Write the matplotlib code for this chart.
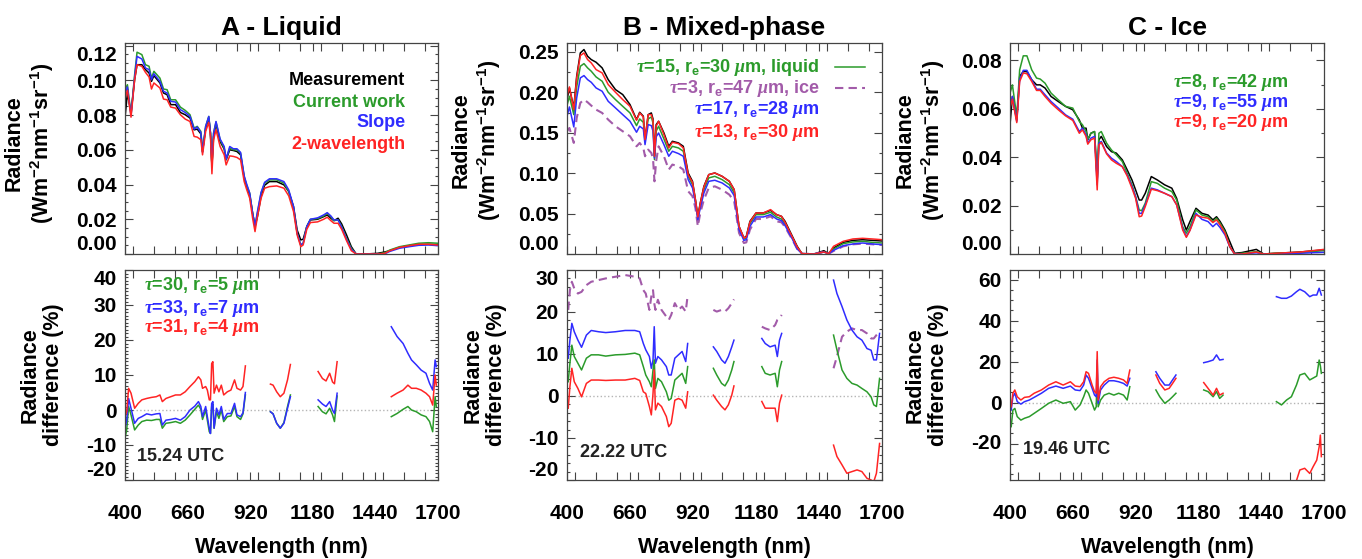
import numpy as np
import matplotlib.pyplot as plt
from matplotlib.ticker import MultipleLocator, FormatStrFormatter

plt.rcParams['font.family'] = ['Liberation Sans', 'DejaVu Sans']
plt.rcParams['font.weight'] = 'bold'
plt.rcParams['axes.unicode_minus'] = False
plt.rcParams['mathtext.fontset'] = 'custom'
plt.rcParams['mathtext.rm'] = 'Liberation Sans:bold'
plt.rcParams['mathtext.bf'] = 'Liberation Sans:bold'
plt.rcParams['mathtext.it'] = 'Liberation Serif:italic'
plt.rcParams['mathtext.default'] = 'bf'

nan = np.nan
GREEN = '#2b9b2b'
BLUE = '#2f2cff'
RED = '#ff2424'
PURPLE = '#a25ba9'

### A - LIQUID : radiance spectra
wl_a = [400, 410, 425, 440, 450, 470, 485, 500, 510, 520, 545, 560, 575, 590, 610, 630, 650, 670, 687, 700,
        715, 722, 735, 748, 755, 761, 768, 778, 795, 812, 820, 835, 850, 865, 880, 895, 905, 918, 930, 940,
        950, 965, 980, 1000, 1030, 1060, 1080, 1100, 1115, 1130, 1140, 1155, 1170, 1200, 1225, 1240, 1255, 1268, 1285, 1300,
        1320, 1340, 1360, 1400, 1450, 1480, 1500, 1540, 1580, 1620, 1660, 1700]
meas_a = [.0783, .0927, .0812, .1004, .1090, .1090, .1062, .1042, .0994, .1027, .0985, .0927, .0917, .0860, .0860, .0815, .0802, .0783, .0715, .0719,
          .0692, .0590, .0725, .0783, .0696, .0504, .0677, .0750, .0648, .0604, .0542, .0600, .0596, .0590, .0571, .0437, .0392, .0340, .0235, .0158,
          .0215, .0331, .0396, .0417, .0417, .0398, .0360, .0273, .0138, .0081, .0085, .0158, .0196, .0200, .0215, .0225, .0206, .0192, .0206, .0173,
          .0110, .0042, .0000, .0000, .0004, .0012, .0019, .0038, .0048, .0054, .0056, .0054]
curr_a = [.0946, .0975, .0802, .1033, .1162, .1148, .1090, .1081, .1013, .1052, .1013, .0950, .0946, .0888, .0888, .0846, .0827, .0802, .0725, .0735,
          .0706, .0590, .0735, .0792, .0696, .0513, .0696, .0760, .0658, .0610, .0546, .0610, .0600, .0600, .0581, .0446, .0398, .0350, .0235, .0158,
          .0235, .0350, .0408, .0427, .0427, .0408, .0360, .0263, .0119, .0052, .0062, .0158, .0200, .0204, .0219, .0235, .0215, .0192, .0196, .0158,
          .0090, .0033, .0000, .0000, .0000, .0008, .0023, .0042, .0052, .0062, .0065, .0062]
slope_a = [.0921, .0962, .0796, .1019, .1138, .1123, .1071, .1062, .1004, .1038, .0994, .0937, .0927, .0879, .0875, .0831, .0815, .0792, .0719, .0731,
           .0700, .0585, .0735, .0792, .0696, .0513, .0696, .0763, .0662, .0619, .0546, .0619, .0606, .0606, .0585, .0450, .0404, .0350, .0235, .0162,
           .0244, .0354, .0413, .0433, .0433, .0417, .0369, .0273, .0119, .0052, .0062, .0158, .0200, .0208, .0225, .0238, .0219, .0196, .0196, .0154,
           .0085, .0027, .0000, .0000, .0000, .0002, .0015, .0033, .0042, .0050, .0052, .0048]
twowl_a = [.0898, .0942, .0788, .1004, .1090, .1081, .1046, .1019, .0950, .0985, .0956, .0892, .0888, .0846, .0840, .0802, .0777, .0763, .0677, .0673,
           .0658, .0571, .0706, .0758, .0677, .0462, .0658, .0715, .0619, .0571, .0513, .0565, .0562, .0556, .0542, .0417, .0373, .0321, .0206, .0129,
           .0215, .0321, .0379, .0388, .0392, .0379, .0335, .0244, .0110, .0042, .0052, .0142, .0181, .0185, .0200, .0212, .0192, .0177, .0177, .0142,
           .0077, .0019, .0000, .0000, .0000, .0004, .0019, .0038, .0048, .0056, .0056, .0052]

### B - MIXED-PHASE : radiance spectra
wl_b = [400, 410, 428, 440, 455, 470, 485, 500, 520, 545, 570, 600, 630, 660, 687, 700, 715, 722, 735, 748,
        755, 761, 768, 778, 800, 820, 835, 860, 880, 900, 918, 930, 940, 950, 965, 985, 1010, 1040, 1070, 1090,
        1110, 1130, 1140, 1155, 1180, 1210, 1240, 1265, 1285, 1300, 1330, 1350, 1370, 1420, 1460, 1480, 1500, 1540, 1580, 1620,
        1660, 1700]
meas_b = [.1910, .2054, .1807, .2199, .2487, .2529, .2446, .2405, .2372, .2302, .2157, .2034, .1972, .1848, .1662, .1753, .1704, .1415, .1724, .1745,
          .1670, .1209, .1600, .1642, .1497, .1332, .1394, .1374, .1332, .1002, .0899, .0672, .0466, .0631, .0837, .0982, .1002, .0961, .0899, .0796,
          .0342, .0198, .0219, .0404, .0507, .0507, .0540, .0487, .0466, .0404, .0219, .0095, .0004, .0000, .0041, .0004, .0074, .0144, .0169, .0177,
          .0169, .0161]
liq_b = [.1836, .1951, .1724, .2067, .2322, .2355, .2302, .2261, .2190, .2137, .2001, .1910, .1827, .1745, .1588, .1671, .1629, .1394, .1671, .1695,
         .1620, .1167, .1520, .1580, .1423, .1271, .1332, .1312, .1271, .0961, .0858, .0652, .0446, .0598, .0796, .0941, .0961, .0920, .0858, .0755,
         .0322, .0186, .0198, .0375, .0487, .0487, .0516, .0458, .0433, .0375, .0198, .0074, .0004, .0000, .0025, .0004, .0062, .0128, .0149, .0157,
         .0144, .0136]
ice_b = [.1518, .1559, .1374, .1683, .1869, .1910, .1877, .1836, .1786, .1745, .1662, .1580, .1518, .1456, .1332, .1374, .1312, .1209, .1291, .1250,
         .1180, .0899, .1150, .1332, .1209, .1044, .1106, .1085, .1044, .0776, .0714, .0569, .0342, .0507, .0672, .0817, .0837, .0796, .0734, .0652,
         .0260, .0136, .0144, .0301, .0433, .0433, .0466, .0404, .0392, .0334, .0177, .0062, .0004, .0000, .0025, .0004, .0037, .0095, .0120, .0128,
         .0120, .0111]
slope_b = [.1704, .1819, .1572, .1931, .2178, .2207, .2157, .2124, .2054, .2013, .1889, .1807, .1724, .1642, .1506, .1580, .1547, .1353, .1601, .1588,
           .1520, .1188, .1450, .1497, .1353, .1209, .1271, .1242, .1209, .0920, .0817, .0631, .0425, .0569, .0755, .0899, .0912, .0879, .0817, .0722,
           .0301, .0169, .0177, .0342, .0458, .0458, .0487, .0433, .0413, .0351, .0186, .0062, .0004, .0000, .0025, .0004, .0045, .0103, .0124, .0136,
           .0124, .0116]
twowl_b = [.1951, .2067, .1786, .2178, .2454, .2487, .2405, .2364, .2281, .2240, .2096, .2001, .1910, .1827, .1654, .1745, .1695, .1415, .1724, .1724,
           .1650, .1209, .1580, .1642, .1477, .1312, .1382, .1365, .1312, .0982, .0887, .0672, .0458, .0623, .0829, .0982, .1002, .0961, .0899, .0796,
           .0342, .0198, .0210, .0396, .0507, .0507, .0549, .0487, .0466, .0392, .0210, .0087, .0004, .0000, .0025, .0004, .0095, .0157, .0186, .0194,
           .0186, .0177]

### C - ICE : radiance spectra
wl_c = [400, 410, 428, 440, 455, 470, 490, 510, 525, 545, 570, 600, 630, 660, 687, 700, 715, 722, 735, 750,
        761, 768, 778, 800, 820, 840, 865, 885, 905, 920, 935, 945, 960, 985, 1010, 1040, 1070, 1090, 1115, 1130,
        1145, 1170, 1195, 1220, 1240, 1255, 1270, 1290, 1310, 1330, 1360, 1420, 1450, 1500, 1600, 1700]
meas_c = [.0534, .0651, .0554, .0734, .0754, .0754, .0720, .0699, .0699, .0686, .0651, .0630, .0610, .0596, .0554, .0520, .0520, .0472, .0499, .0506,
          .0306, .0472, .0486, .0444, .0423, .0417, .0389, .0348, .0306, .0265, .0223, .0223, .0251, .0320, .0306, .0286, .0272, .0230, .0141, .0099,
          .0134, .0189, .0168, .0161, .0141, .0154, .0134, .0099, .0051, .0003, .0006, .0019, .0000, .0003, .0008, .0017]
curr_c = [.0665, .0699, .0568, .0761, .0819, .0819, .0761, .0727, .0723, .0706, .0665, .0637, .0610, .0603, .0548, .0534, .0506, .0474, .0499, .0506,
          .0306, .0499, .0506, .0458, .0430, .0410, .0382, .0334, .0286, .0237, .0182, .0179, .0210, .0299, .0292, .0272, .0258, .0223, .0113, .0086,
          .0113, .0182, .0161, .0154, .0134, .0148, .0127, .0092, .0030, .0000, .0003, .0010, .0000, .0003, .0006, .0014]
slope_c = [.0610, .0651, .0548, .0720, .0759, .0759, .0720, .0681, .0681, .0658, .0630, .0603, .0575, .0557, .0506, .0520, .0492, .0458, .0479, .0486,
           .0286, .0458, .0465, .0417, .0396, .0382, .0361, .0327, .0279, .0237, .0168, .0168, .0203, .0272, .0265, .0251, .0237, .0203, .0106, .0072,
           .0099, .0168, .0143, .0134, .0113, .0127, .0109, .0079, .0030, .0000, .0000, .0005, .0000, .0000, .0003, .0007]
twowl_c = [.0603, .0640, .0543, .0713, .0748, .0745, .0713, .0676, .0676, .0651, .0623, .0596, .0571, .0552, .0499, .0513, .0486, .0454, .0472, .0479,
           .0265, .0451, .0461, .0414, .0389, .0375, .0361, .0323, .0272, .0230, .0154, .0157, .0196, .0268, .0262, .0251, .0237, .0203, .0099, .0069,
           .0097, .0161, .0152, .0148, .0130, .0141, .0120, .0086, .0030, .0000, .0000, .0008, .0000, .0003, .0008, .0019]

### radiance differences (%), nan separates the spectral windows
dwl_a = [400, 407, 415, 425, 440, 455, 470, 490, 510, 530, 545, 555, 570, 590, 610, 630, 650, 670, 690, 705,
         715, 722, 735, 742, 750, 755, 760, 765, 770, 780, 790, 800, 810, 825, 840, 855, 865, 880, 890, 900, nan,
         1004, 1015, 1030, 1045, 1060, 1075, 1087, nan,
         1202, 1220, 1235, 1250, 1262, 1270, 1281, nan,
         1506, 1530, 1555, 1575, 1590, 1610, 1630, 1650, 1665, 1678, 1688, 1693]
dcurr_a = [-8.1, -5.7, 1.0, -1.4, -5.7, -4.3, -3.3, -2.9, -3.0, -2.7, -2.7, -5.2, -3.8, -3.6, -3.3, -3.8, -2.9, -1.4, 0.2, 1.4,
           0.2, -2.7, 0.0, -2.9, -6.2, -6.7, 1.0, 1.7, -5.2, -0.5, -2.4, 0.0, -3.3, -1.9, -1.7, 1.0, -1.9, -2.7, -1.1, 4.3, nan,
           -0.5, -1.1, -3.8, -5.2, -3.6, 1.0, 4.3, nan,
           1.0, -0.5, -1.1, 0.5, -1.4, -3.3, 4.0, nan,
           -1.9, -1.0, 0.2, 1.0, 0.0, -0.5, -1.4, -1.9, -3.3, -6.2, 3.8, 1.0]
dslope_a = [-5.2, -2.9, 3.3, 0.5, -3.8, -2.4, -1.9, -1.1, -1.4, -1.1, -1.0, -4.3, -2.9, -2.7, -2.4, -2.9, -1.9, 0.0, 1.1, 2.4,
            1.0, -1.9, 1.0, -1.9, -5.2, -6.7, 1.9, 2.4, -5.2, 0.5, -1.4, 1.0, -2.7, -1.0, -1.0, 1.9, -1.4, -1.9, -0.8, 5.0, nan,
            -0.5, -1.1, -3.8, -5.2, -3.8, 0.5, 3.8, nan,
            2.9, 1.7, 1.0, 2.4, 0.0, -1.0, 4.8, nan,
            23.8, 21.0, 19.0, 16.2, 14.3, 12.9, 11.4, 10.5, 7.6, 5.7, 14.3, 12.4]
dtwowl_a = [-1.9, -0.5, 6.2, 4.8, 0.5, 1.9, 2.9, 3.3, 3.6, 3.8, 4.3, 2.4, 3.3, 3.8, 4.3, 4.3, 5.2, 6.7, 8.1, 9.5,
            8.6, 6.2, 6.7, 5.7, 2.9, 2.9, 13.3, 13.8, 4.8, 7.1, 5.2, 7.1, 4.3, 5.2, 5.7, 8.6, 6.2, 5.7, 6.7, 12.6, nan,
            7.4, 7.1, 5.2, 3.8, 4.8, 8.6, 13.0, nan,
            11.0, 9.0, 8.3, 10.5, 8.0, 7.5, 13.8, nan,
            3.8, 4.8, 5.7, 7.1, 6.2, 6.2, 5.7, 4.8, 3.8, 1.4, 10.0, 7.1]

dwl_b = [405, 412, 420, 430, 445, 460, 480, 500, 530, 560, 600, 640, 680, 700, 715, 725, 740, 748, 755, 760,
         765, 775, 790, 810, 820, 830, 845, 860, 875, 890, 898, nan,
         1004, 1018, 1038, 1052, 1066, 1080, 1089, nan,
         1204, 1218, 1238, 1259, 1268, 1277, 1286, nan,
         1500, 1514, 1535, 1555, 1576, 1597, 1617, 1638, 1655, 1666, 1677, 1690]
dliq_b = [3.4, 7.8, 12.1, 9.4, 7.8, 6.2, 9.0, 9.8, 9.8, 9.5, 9.8, 9.9, 10.2, 9.8, 7.0, 5.0, 3.4, 2.2, 6.2, 8.6,
          1.8, 4.2, 3.4, 1.0, -1.0, -0.6, 3.8, 4.6, 5.4, 3.0, 7.0, nan,
          6.6, 5.0, 3.0, 2.4, 3.8, 6.2, 8.2, nan,
          7.0, 5.4, 5.0, 5.4, 2.2, 6.2, 8.2, nan,
          14.5, 11.0, 6.2, 4.2, 3.0, 2.6, 1.8, 1.0, -0.2, -2.1, -2.5, 4.2]
dice_b = [20.5, 25.2, 27.2, 25.6, 24.4, 24.8, 26.4, 27.2, 27.6, 28.0, 28.4, 28.8, 28.4, 28.0, 25.2, 24.4, 20.5, 23.7, 25.2, 22.1,
          20.5, 22.9, 20.5, 18.9, 18.1, 19.3, 22.1, 20.5, 21.3, 20.1, 24.0, nan,
          20.5, 20.1, 20.5, 20.1, 20.9, 22.1, 23.0, nan,
          16.5, 16.1, 15.7, 16.9, 18.1, 18.5, 19.3, nan,
          6.6, 9.4, 14.1, 15.3, 16.1, 15.7, 15.7, 14.9, 13.7, 13.7, 14.5, 15.3]
dslope_b = [9.0, 13.3, 17.3, 15.3, 13.3, 11.6, 14.5, 15.6, 15.3, 15.1, 15.3, 15.6, 15.6, 15.3, 12.5, 11.0, 9.4, 6.6, 8.6, 16.5,
            7.8, 9.4, 8.6, 7.0, 5.0, 5.0, 9.0, 9.8, 10.6, 8.2, 12.5, nan,
            11.7, 10.6, 8.6, 7.8, 9.4, 11.7, 13.3, nan,
            13.7, 12.5, 11.7, 12.1, 9.4, 13.3, 14.9, nan,
            27.6, 24.4, 21.3, 18.1, 15.7, 14.1, 13.3, 11.3, 10.9, 8.6, 8.6, 14.9]
dtwowl_b = [-2.9, 2.2, 6.6, 3.4, 1.8, -0.2, 3.0, 3.8, 3.8, 3.7, 3.8, 3.8, 4.2, 3.7, 1.0, 0.6, -2.5, -4.5, 0.6, 6.2,
            -3.3, -1.7, -2.5, -4.9, -7.3, -6.5, -1.0, -0.6, -1.0, -2.9, 1.0, nan,
            0.2, -1.0, -2.5, -3.3, -2.1, 0.2, 2.4, nan,
            -1.3, -2.9, -2.9, -2.9, -6.1, -1.7, 0.2, nan,
            -11.7, -14.4, -16.4, -18.4, -18.0, -17.6, -18.0, -19.6, -20.0, -20.4, -18.4, -11.3]

dwl_c = [405, 412, 420, 430, 445, 460, 480, 500, 530, 560, 590, 620, 650, 670, 690, 705, 715, 725, 740, 750,
         757, 761, 765, 775, 790, 810, 830, 850, 870, 885, 896, nan,
         1004, 1020, 1041, 1059, 1073, 1087, nan,
         1202, 1220, 1241, 1255, 1268, 1282, nan,
         1503, 1524, 1545, 1565, 1586, 1600, 1620, 1641, 1655, 1670, 1680, 1685, 1689]
dcurr_c = [-11.7, -3.6, -2.8, -6.8, -8.5, -7.6, -6.8, -5.2, -2.8, -0.3, 1.3, -0.3, 0.5, -3.6, -1.1, 2.9, 6.2, 4.6, -0.3, -3.6,
           -2.0, 15.9, -2.0, 1.3, 3.7, 4.6, 3.7, 4.6, 3.7, 1.3, 7.8, nan,
           6.2, 2.9, -0.3, 1.3, 2.9, 4.6, nan,
           6.2, 5.4, 2.9, 5.4, 2.1, 3.7, nan,
           0.5, -1.1, 1.3, 2.9, 8.6, 13.5, 14.3, 11.1, 12.0, 13.0, 20.8, 18.0, 14.3]
dslope_c = [-3.6, 2.9, 4.6, 0.5, -0.7, 0.5, 1.3, 2.6, 4.6, 7.0, 8.1, 7.0, 8.1, 6.2, 5.9, 8.6, 13.5, 11.9, 7.0, 3.7,
            2.9, 20.8, -0.3, 6.2, 8.6, 10.7, 10.7, 10.2, 9.4, 8.1, 11.9, nan,
            15.1, 11.9, 8.6, 8.6, 11.1, 13.5, nan,
            19.5, 20.0, 20.8, 23.3, 20.8, 21.1, nan,
            51.7, 50.9, 50.9, 52.0, 54.1, 55.3, 54.1, 51.7, 52.5, 52.5, 55.8, 54.0, 52.5]
dtwowl_c = [-2.0, 4.6, 6.2, 2.9, 1.3, 2.6, 2.9, 4.6, 6.2, 8.6, 10.2, 8.6, 10.2, 8.1, 7.8, 10.2, 15.1, 14.3, 8.6, 5.4,
            4.6, 24.9, 1.3, 7.8, 10.2, 11.9, 12.4, 11.9, 11.1, 9.4, 15.9, nan,
            13.5, 9.4, 6.2, 7.0, 9.4, 11.9, nan,
            9.8, 7.0, 3.7, 7.0, 3.7, 4.6, nan,
            -50.0, -48.0, -45.0, -42.0, -38.0, -32.8, -32.0, -34.5, -31.2, -28.0, -21.5, -15.8, -26.3]

W, H = 1362, 559
fig = plt.figure(figsize=(W / 100, H / 100), dpi=100)


def px_axes(left, top, right, bottom):
    return fig.add_axes([left / W, 1 - bottom / H, (right - left) / W, (bottom - top) / H])


def style(ax, ylim, yticks, yminor, fmt, bottom_row, shift_top=False):
    ax.set_xlim(400, 1700)
    ax.set_ylim(*ylim)
    ax.set_xticks([400, 660, 920, 1180, 1440, 1700])
    ax.xaxis.set_minor_locator(MultipleLocator(260 / 3))
    ax.set_yticks(yticks)
    ax.yaxis.set_minor_locator(MultipleLocator(yminor))
    ax.yaxis.set_major_formatter(FormatStrFormatter(fmt))
    ax.tick_params(which='both', direction='in', top=True, right=True, width=0.8, color='#444444')
    ax.tick_params(axis='x', which='both', length=5.5, labelsize=15, pad=17)
    ax.tick_params(axis='y', which='major', length=6, labelsize=15, pad=6)
    ax.tick_params(axis='y', which='minor', length=2.5)
    for s in ax.spines.values():
        s.set_color('#444444')
        s.set_linewidth(0.9)
    if bottom_row:
        ax.set_xlabel('Wavelength (nm)', fontsize=15.5, fontweight='bold', labelpad=10)
    else:
        ax.tick_params(axis='x', labelbottom=False)
    labs = ax.get_yticklabels()
    labs[0].set_verticalalignment('bottom')
    if shift_top:
        labs[-1].set_verticalalignment('top')


def ylabel(x, y, txt):
    fig.text(x / W, 1 - y / H, txt, rotation=90, ha='center', va='center', ma='center',
             fontsize=15.5, fontweight='bold', linespacing=1.15)


rad_lab = 'Radiance\n(Wm$^{-2}$nm$^{-1}$sr$^{-1}$)'
diff_lab = 'Radiance\ndifference (%)'
lw = 1.1

# ---- top row
ax = px_axes(125, 43, 438, 254)
ax.plot(wl_a, meas_a, color='black', lw=lw)
ax.plot(wl_a, curr_a, color=GREEN, lw=lw)
ax.plot(wl_a, slope_a, color=BLUE, lw=lw)
ax.plot(wl_a, twowl_a, color=RED, lw=lw)
style(ax, (0, 0.1215), [0, 0.02, 0.04, 0.06, 0.08, 0.10, 0.12], 0.005, '%.2f', False, shift_top=True)
ax.set_title('A - Liquid', fontsize=19, fontweight='bold', pad=6)
for txt, c, y in [('Measurement', 'black', 0.820), ('Current work', GREEN, 0.720),
                  ('Slope', BLUE, 0.621), ('2-wavelength', RED, 0.517)]:
    ax.text(0.895, y, txt, color=c, fontsize=13, ha='right', va='center', transform=ax.transAxes)
ylabel(30, 143, rad_lab)

ax = px_axes(567, 43, 882, 254)
ax.plot(wl_b, meas_b, color='black', lw=lw)
ax.plot(wl_b, liq_b, color=GREEN, lw=lw)
ax.plot(wl_b, ice_b, color=PURPLE, lw=1.5, ls=(0, (4, 2.5)))
ax.plot(wl_b, slope_b, color=BLUE, lw=lw)
ax.plot(wl_b, twowl_b, color=RED, lw=lw)
style(ax, (0, 0.261), [0, 0.05, 0.10, 0.15, 0.20, 0.25], 0.025, '%.2f', False)
ax.set_title('B - Mixed-phase', fontsize=19, fontweight='bold', pad=6)
leg_b = [(r'$\mathit{\tau}$=15, r$_e$=30 $\mathit{\mu}$m, liquid', GREEN, 0.882),
         (r'$\mathit{\tau}$=3, r$_e$=47 $\mathit{\mu}$m, ice', PURPLE, 0.782),
         (r'$\mathit{\tau}$=17, r$_e$=28 $\mathit{\mu}$m', BLUE, 0.683),
         (r'$\mathit{\tau}$=13, r$_e$=30 $\mathit{\mu}$m', RED, 0.578)]
for txt, c, y in leg_b:
    ax.text(0.803, y, txt, color=c, fontsize=13, ha='right', va='center', transform=ax.transAxes)
ax.plot([0.851, 0.946], [0.885, 0.885], color=GREEN, lw=lw, transform=ax.transAxes)
ax.plot([0.851, 0.946], [0.785, 0.785], color=PURPLE, lw=1.5, ls=(0, (4, 2.5)), transform=ax.transAxes)
ylabel(477, 140, rad_lab)

ax = px_axes(1010, 43, 1324, 254)
ax.plot(wl_c, meas_c, color='black', lw=lw)
ax.plot(wl_c, curr_c, color=GREEN, lw=lw)
ax.plot(wl_c, slope_c, color=BLUE, lw=lw)
ax.plot(wl_c, twowl_c, color=RED, lw=lw)
style(ax, (0, 0.0872), [0, 0.02, 0.04, 0.06, 0.08], 0.01, '%.2f', False)
ax.set_title('C - Ice', fontsize=19, fontweight='bold', pad=6)
leg_c = [(r'$\mathit{\tau}$=8, r$_e$=42 $\mathit{\mu}$m', GREEN, 0.815),
         (r'$\mathit{\tau}$=9, r$_e$=55 $\mathit{\mu}$m', BLUE, 0.716),
         (r'$\mathit{\tau}$=9, r$_e$=20 $\mathit{\mu}$m', RED, 0.621)]
for txt, c, y in leg_c:
    ax.text(0.889, y, txt, color=c, fontsize=13, ha='right', va='center', transform=ax.transAxes)
ylabel(921, 140, rad_lab)

# ---- bottom row
ax = px_axes(125, 270, 438, 480)
ax.axhline(0, color='#b5b5b5', ls=':', lw=1, zorder=0)
ax.plot(dwl_a, dcurr_a, color=GREEN, lw=lw)
ax.plot(dwl_a, dslope_a, color=BLUE, lw=lw)
ax.plot(dwl_a, dtwowl_a, color=RED, lw=lw)
style(ax, (-20, 40), [-20, -10, 0, 10, 20, 30, 40], 1, '%d', True, shift_top=True)
leg_da = [(r'$\mathit{\tau}$=30, r$_e$=5 $\mathit{\mu}$m', GREEN, 0.924),
          (r'$\mathit{\tau}$=33, r$_e$=7 $\mathit{\mu}$m', BLUE, 0.819),
          (r'$\mathit{\tau}$=31, r$_e$=4 $\mathit{\mu}$m', RED, 0.724)]
for txt, c, y in leg_da:
    ax.text(0.061, y, txt, color=c, fontsize=13, ha='left', va='center', transform=ax.transAxes)
ax.text(0.038, 0.110, '15.24 UTC', fontsize=13, ha='left', va='center', color='#222222', transform=ax.transAxes)
ylabel(42, 375, diff_lab)

ax = px_axes(567, 270, 882, 480)
ax.axhline(0, color='#b5b5b5', ls=':', lw=1, zorder=0)
ax.plot(dwl_b, dice_b, color=PURPLE, lw=1.5, ls=(0, (4, 2.5)))
ax.plot(dwl_b, dslope_b, color=BLUE, lw=lw)
ax.plot(dwl_b, dliq_b, color=GREEN, lw=lw)
ax.plot(dwl_b, dtwowl_b, color=RED, lw=lw)
style(ax, (-20, 30), [-20, -10, 0, 10, 20, 30], 2, '%d', True, shift_top=True)
ax.text(0.041, 0.129, '22.22 UTC', fontsize=13, ha='left', va='center', color='#222222', transform=ax.transAxes)
ylabel(485, 375, diff_lab)

ax = px_axes(1010, 270, 1324, 480)
ax.axhline(0, color='#b5b5b5', ls=':', lw=1, zorder=0)
ax.plot(dwl_c, dcurr_c, color=GREEN, lw=lw)
ax.plot(dwl_c, dslope_c, color=BLUE, lw=lw)
ax.plot(dwl_c, dtwowl_c, color=RED, lw=lw)
style(ax, (-37.7, 64.7), [-20, 0, 20, 40, 60], 5, '%d', True)
ax.get_yticklabels()[0].set_verticalalignment('center')
ax.text(0.041, 0.143, '19.46 UTC', fontsize=13, ha='left', va='center', color='#222222', transform=ax.transAxes)
ylabel(927, 375, diff_lab)

fig.savefig('out.png', dpi=100)
